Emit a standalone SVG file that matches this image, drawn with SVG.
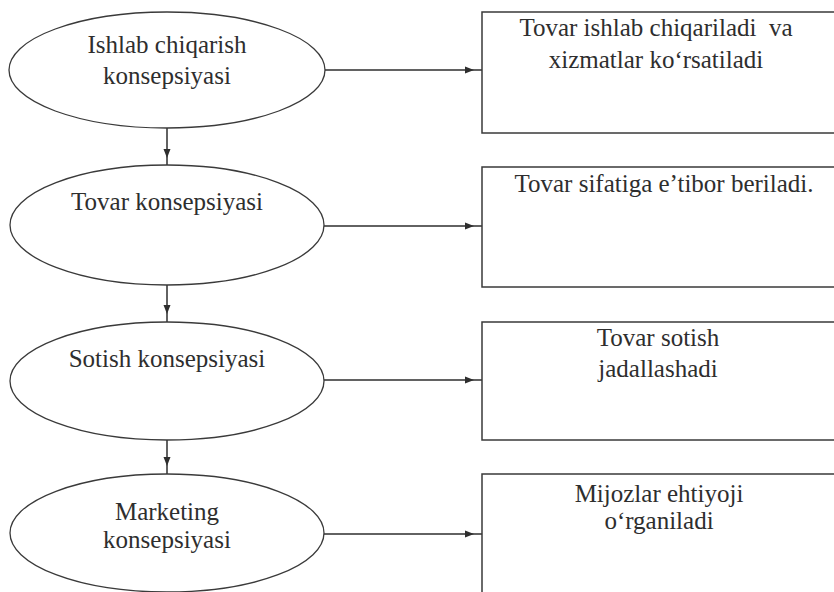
<svg xmlns="http://www.w3.org/2000/svg" width="834" height="592" viewBox="0 0 834 592">
  <style>
    .shape { fill: #ffffff; stroke: #3a3a3a; stroke-width: 1.3; }
    .box { fill: #ffffff; stroke: #3a3a3a; stroke-width: 1.5; }
    .lbl { font-family: "Liberation Serif", "Times New Roman", serif; font-size: 25px; fill: #2e2e2e; text-anchor: middle; white-space: pre; }
    .link { stroke: #2e2e2e; stroke-width: 1.5; fill: none; marker-end: url(#head); }
  </style>
  <defs>
    <!-- small arrowhead set back 8px from the end of each link -->
    <marker id="head" markerUnits="userSpaceOnUse" markerWidth="20" markerHeight="10" refX="17" refY="4" orient="auto">
      <path d="M0,0.5 L9,4 L0,7.5 Z" fill="#2e2e2e"/>
    </marker>
  </defs>
  <rect width="834" height="592" fill="#ffffff"/>

  <g id="connectors">
    <line class="link" x1="167" y1="128" x2="167" y2="166"/>
    <line class="link" x1="167" y1="285" x2="167" y2="322"/>
    <line class="link" x1="167" y1="440" x2="167" y2="474"/>
    <line class="link" x1="325" y1="70" x2="482" y2="70"/>
    <line class="link" x1="324" y1="226" x2="482" y2="226"/>
    <line class="link" x1="324" y1="380" x2="482" y2="380"/>
    <line class="link" x1="324" y1="534" x2="482" y2="534"/>
  </g>

  <g id="ishlab-chiqarish">
    <ellipse class="shape" cx="167" cy="70" rx="158" ry="58"/>
    <text class="lbl" x="167" y="53">Ishlab chiqarish</text>
    <text class="lbl" x="167" y="84">konsepsiyasi</text>
  </g>
  <g id="tovar">
    <ellipse class="shape" cx="167" cy="225" rx="157" ry="60"/>
    <text class="lbl" x="167" y="210">Tovar konsepsiyasi</text>
  </g>
  <g id="sotish">
    <ellipse class="shape" cx="167" cy="381" rx="157" ry="59"/>
    <text class="lbl" x="167" y="367">Sotish konsepsiyasi</text>
  </g>
  <g id="marketing">
    <ellipse class="shape" cx="167" cy="533" rx="157" ry="59"/>
    <text class="lbl" x="167" y="520">Marketing</text>
    <text class="lbl" x="167" y="548">konsepsiyasi</text>
  </g>

  <g id="box-ishlab">
    <rect class="box" x="482" y="12" width="370" height="121"/>
    <text class="lbl" x="656" y="36" xml:space="preserve">Tovar ishlab chiqariladi  va</text>
    <text class="lbl" x="656" y="68">xizmatlar ko‘rsatiladi</text>
  </g>
  <g id="box-sifat">
    <rect class="box" x="482" y="167" width="370" height="120"/>
    <text class="lbl" x="664" y="192">Tovar sifatiga e’tibor beriladi.</text>
  </g>
  <g id="box-sotish">
    <rect class="box" x="482" y="322" width="370" height="118"/>
    <text class="lbl" x="658" y="346">Tovar sotish</text>
    <text class="lbl" x="658" y="377">jadallashadi</text>
  </g>
  <g id="box-mijoz">
    <rect class="box" x="482" y="474" width="370" height="140"/>
    <text class="lbl" x="659" y="502">Mijozlar ehtiyoji</text>
    <text class="lbl" x="659" y="529">o‘rganiladi</text>
  </g>
</svg>
